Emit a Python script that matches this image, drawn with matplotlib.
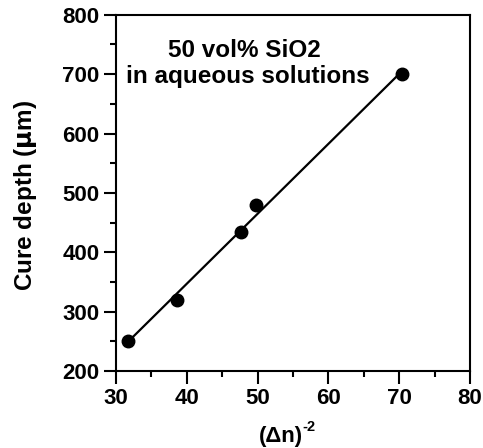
import numpy as np
import matplotlib
matplotlib.use("Agg")
import matplotlib.pyplot as plt
from matplotlib.ticker import MultipleLocator

# data
dn_inv2 = [31.7, 38.6, 47.6, 49.8, 70.4]
cure_depth = [250, 320, 434, 479, 700]
cure_err = [8, 8, 8, 6, 5]

plt.rcParams["font.family"] = ["Liberation Sans", "DejaVu Sans"]
plt.rcParams["font.weight"] = "bold"

fig = plt.figure(figsize=(4.83, 4.48), dpi=100)
ax = fig.add_axes([0.240, 0.172, 0.733, 0.795])

# linear fit through the points
slope, intercept = np.polyfit(dn_inv2, cure_depth, 1)
xfit = np.array([min(dn_inv2), max(dn_inv2)])
ax.plot(xfit, slope * xfit + intercept, color="black", linewidth=1.6, zorder=2)

ax.errorbar(dn_inv2, cure_depth, yerr=cure_err, fmt="o", color="black",
            markersize=9, capsize=3, elinewidth=0.8, capthick=0.8, zorder=3)

ax.set_xlim(30, 80)
ax.set_ylim(200, 800)
ax.xaxis.set_major_locator(MultipleLocator(10))
ax.xaxis.set_minor_locator(MultipleLocator(5))
ax.yaxis.set_major_locator(MultipleLocator(100))
ax.yaxis.set_minor_locator(MultipleLocator(50))

for s in ax.spines.values():
    s.set_linewidth(1.5)
ax.tick_params(which="major", direction="out", length=9, width=1.5,
               labelsize=16, pad=3)
ax.tick_params(which="minor", direction="out", length=4.5, width=1.5)
ax.tick_params(top=False, right=False, which="both")

# axis titles placed by hand, the superscript is smaller than mathtext makes it
ax.text(0.467, -0.183, "(\u0394n)", transform=ax.transAxes, ha="center",
        va="center", fontsize=16, fontweight="bold")
ax.text(0.528, -0.158, "-2", transform=ax.transAxes, ha="left",
        va="center", fontsize=10.5, fontweight="bold")
ax.text(-0.254, 0.494, r"Cure depth ($\mathrm{\mu}$m)", transform=ax.transAxes,
        rotation=90, ha="center", va="center", fontsize=17.5, fontweight="bold")

ax.text(48.1, 729, "50 vol% SiO2", ha="center", va="baseline",
        fontsize=17.5, fontweight="bold")
ax.text(48.6, 685, "in aqueous solutions", ha="center", va="baseline",
        fontsize=17.5, fontweight="bold")

fig.savefig("out.png", dpi=100)
